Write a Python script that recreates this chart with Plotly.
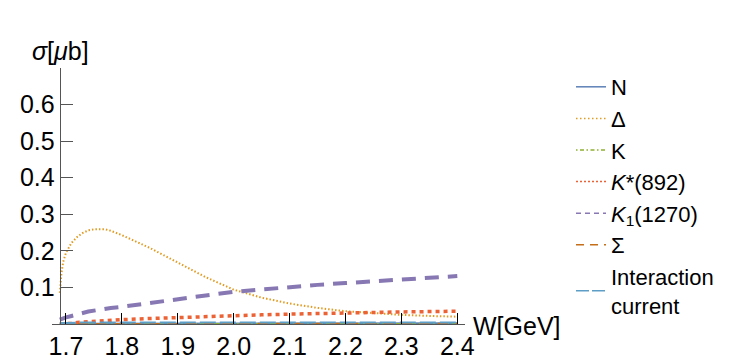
import plotly.graph_objects as go

# Data
W = [1.689, 1.692, 1.695, 1.70, 1.71, 1.72, 1.73, 1.74, 1.75, 1.76, 1.77, 1.78,
     1.80, 1.85, 1.90, 1.95, 2.00, 2.05, 2.10, 2.15, 2.20, 2.25, 2.30, 2.35, 2.40]

sigma_N = [0.001, 0.001, 0.001, 0.002, 0.002, 0.002, 0.002, 0.002, 0.002, 0.002, 0.002, 0.002,
           0.002, 0.002, 0.002, 0.002, 0.002, 0.002, 0.002, 0.002, 0.002, 0.002, 0.002, 0.002, 0.002]
sigma_Delta = [0.085, 0.14, 0.17, 0.195, 0.222, 0.238, 0.249, 0.256, 0.259, 0.26, 0.259, 0.255,
               0.243, 0.208, 0.167, 0.128, 0.094, 0.072, 0.056, 0.044, 0.035, 0.029, 0.025, 0.022, 0.02]
sigma_K = [0.0, 0.0, 0.0, 0.0, 0.001, 0.001, 0.001, 0.001, 0.001, 0.001, 0.001, 0.001,
           0.001, 0.001, 0.001, 0.001, 0.001, 0.001, 0.001, 0.001, 0.001, 0.001, 0.001, 0.001, 0.001]
sigma_Kstar = [0.0, 0.0, 0.0, 0.001, 0.002, 0.004, 0.005, 0.006, 0.008, 0.009, 0.010, 0.011,
               0.012, 0.015, 0.018, 0.021, 0.023, 0.025, 0.027, 0.029, 0.030, 0.031, 0.033, 0.034, 0.035]
sigma_K1 = [0.012, 0.013, 0.014, 0.018, 0.022, 0.027, 0.030, 0.034, 0.037, 0.040, 0.042, 0.044,
            0.047, 0.058, 0.068, 0.078, 0.088, 0.095, 0.101, 0.107, 0.112, 0.117, 0.122, 0.127, 0.131]
sigma_Sigma = [0.0, 0.0, 0.001, 0.001, 0.001, 0.001, 0.001, 0.001, 0.001, 0.001, 0.001, 0.001,
               0.001, 0.001, 0.001, 0.001, 0.001, 0.001, 0.001, 0.001, 0.001, 0.001, 0.001, 0.001, 0.001]
sigma_Int = [0.002, 0.003, 0.003, 0.003, 0.004, 0.004, 0.004, 0.004, 0.004, 0.004, 0.004, 0.004,
             0.004, 0.004, 0.004, 0.004, 0.004, 0.004, 0.004, 0.004, 0.004, 0.004, 0.004, 0.004, 0.004]

names = ["N", "Δ", "K", "<i>K</i>*(892)", "<i>K</i><sub>1</sub>(1270)", "Σ", "Interaction<br>current"]
series = [sigma_N, sigma_Delta, sigma_K, sigma_Kstar, sigma_K1, sigma_Sigma, sigma_Int]
colors = ["#5E81B5", "#E19C24", "#8FB032", "#EB6235", "#8778B3", "#C56E1A", "#5D9EC7"]
dashes = ["solid", "1.5px,2px", "6px,3px,2px,3px", "4px,4px", "14px,9px", "10px,8px", "16px,4px"]
widths = [2, 2, 1.5, 3.5, 4, 2, 2]
legend_dashes = ["solid", "1.5px,2.5px", "1.5px,2.5px,4px,2.5px", "2px,2px", "5px,4px", "8px,6px", "13px,3px"]

x_ticks = [1.7, 1.8, 1.9, 2.0, 2.1, 2.2, 2.3, 2.4]
x_tick_labels = ["1.7", "1.8", "1.9", "2.0", "2.1", "2.2", "2.3", "2.4"]
y_ticks = [0.1, 0.2, 0.3, 0.4, 0.5, 0.6]
y_tick_labels = ["0.1", "0.2", "0.3", "0.4", "0.5", "0.6"]

FONT = "Liberation Sans, Arial, sans-serif"

fig = go.Figure()
for name, ys, c, d, w in zip(names, series, colors, dashes, widths):
    fig.add_trace(go.Scatter(x=W, y=ys, mode="lines", name=name, showlegend=False,
                             line=dict(color=c, dash=d, width=w)))
# thin legend samples (as in the reference legend)
for name, c, d in zip(names, colors, legend_dashes):
    fig.add_trace(go.Scatter(x=[None], y=[None], mode="lines", name=name,
                             line=dict(color=c, dash=d, width=1.5)))

# page body has an 8px margin: the figure is drawn 8px smaller and shifted
OFF = 8
x0 = 1.675
x1 = 2.4138
fig.update_layout(
    width=743 - OFF, height=361 - OFF,
    margin=dict(l=52 - OFF, r=278, t=68 - OFF, b=36.5, autoexpand=False),
    paper_bgcolor="white", plot_bgcolor="white",
    font=dict(family=FONT, size=25, color="black"),
    showlegend=True,
    legend=dict(x=(571 - 52) / 413, xanchor="left", y=(324.5 - 66) / 256.5, yanchor="top",
                font=dict(size=22, family=FONT, color="black"),
                tracegroupgap=0, itemwidth=30, bgcolor="rgba(0,0,0,0)",
                maxheight=361),
    xaxis=dict(range=[x0, x1], tickvals=x_ticks, ticktext=x_tick_labels,
               ticks="inside", ticklen=11, tickcolor="black", tickwidth=1,
               showline=True, linecolor="#555", linewidth=1.3, showgrid=False,
               zeroline=False, tickfont=dict(size=25, family=FONT)),
    yaxis=dict(range=[0, 0.7], tickvals=y_ticks, ticktext=y_tick_labels,
               anchor="free", position=(1.689 - x0) / (x1 - x0),
               ticks="inside", ticklen=12, tickcolor="#555", tickwidth=1.3,
               showline=True, linecolor="#555", linewidth=1.3, showgrid=False,
               zeroline=False, tickfont=dict(size=25, family=FONT)),
    annotations=[
        dict(text="<i>σ</i>[<i>μ</i>b]", xref="paper", yref="paper",
             x=(60 - 52) / 413, y=1 + (68 - 51) / 256.5, xanchor="center", yanchor="middle",
             showarrow=False, font=dict(size=25, family=FONT)),
        dict(text="W[GeV]", xref="paper", yref="paper",
             x=(471 - 52) / 413, y=(324.5 - 327) / 256.5, xanchor="left", yanchor="middle",
             showarrow=False, font=dict(size=25, family=FONT)),
    ],
)

fig.write_html("out.html")
